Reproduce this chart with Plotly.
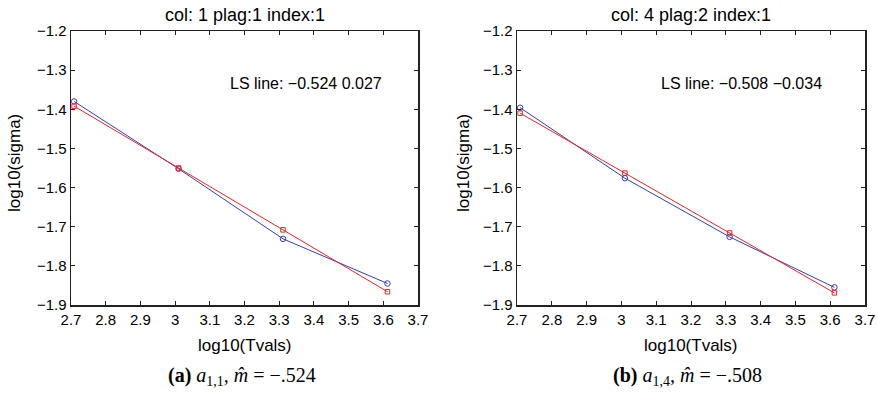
import plotly.graph_objects as go

# Data
log_T = [2.709, 3.010, 3.311, 3.612]
sigma_a_obs = [-1.380, -1.552, -1.731, -1.845]
sigma_a_ls = [-1.392, -1.550, -1.708, -1.866]
sigma_b_obs = [-1.396, -1.576, -1.726, -1.855]
sigma_b_ls = [-1.410, -1.563, -1.716, -1.869]

titles = ["col: 1 plag:1 index:1", "col: 4 plag:2 index:1"]
ls_texts = ["LS line: \u22120.524 0.027", "LS line: \u22120.508 \u22120.034"]
captions = ["<b>(a)</b> <i>a</i><sub>1,1</sub><i>, m\u0302</i> = \u2212.524",
            "<b>(b)</b> <i>a</i><sub>1,4</sub><i>, m\u0302</i> = \u2212.508"]

x_ticks = [2.7, 2.8, 2.9, 3.0, 3.1, 3.2, 3.3, 3.4, 3.5, 3.6, 3.7]
x_ticklabels = ["2.7", "2.8", "2.9", "3", "3.1", "3.2", "3.3", "3.4", "3.5", "3.6", "3.7"]
y_ticks = [-1.9, -1.8, -1.7, -1.6, -1.5, -1.4, -1.3, -1.2]
y_ticklabels = ["\u22121.9", "\u22121.8", "\u22121.7", "\u22121.6", "\u22121.5", "\u22121.4", "\u22121.3", "\u22121.2"]

BLUE = "#3040b8"
RED = "#ee2222"
FONT = "Liberation Sans"

fig = go.Figure()

panels = [
    ("x", "y", sigma_a_obs, sigma_a_ls),
    ("x2", "y2", sigma_b_obs, sigma_b_ls),
]
for xa, ya, obs, ls in panels:
    fig.add_trace(go.Scatter(x=log_T, y=obs, xaxis=xa, yaxis=ya, mode="lines+markers",
                             line=dict(color=BLUE, width=1),
                             marker=dict(symbol="circle-open", size=5.5, color=BLUE, line=dict(width=1)),
                             showlegend=False, hoverinfo="skip"))
    fig.add_trace(go.Scatter(x=log_T, y=ls, xaxis=xa, yaxis=ya, mode="lines+markers",
                             line=dict(color=RED, width=1),
                             marker=dict(symbol="square-open", size=4.5, color=RED, line=dict(width=1)),
                             showlegend=False, hoverinfo="skip"))

xdoms = [[71 / 878, 418 / 878], [517 / 878, 865 / 878]]
ydom = [1 - 305 / 393, 1 - 31 / 393]

axis_common = dict(showgrid=False, zeroline=False, ticks="inside", ticklen=4,
                   tickwidth=1, tickcolor="#222", showline=True, linecolor="#222",
                   linewidth=1.5, mirror="ticks", automargin=False,
                   ticklabeloverflow="allow",
                   tickfont=dict(family=FONT, size=15, color="black"))

layout = dict(
    width=878, height=393,
    template="none",
    margin=dict(l=0, r=0, t=0, b=0),
    paper_bgcolor="white", plot_bgcolor="white",
    xaxis=dict(domain=xdoms[0], range=[2.7, 3.7], tickvals=x_ticks, ticktext=x_ticklabels,
               anchor="y", **axis_common),
    yaxis=dict(domain=ydom, range=[-1.9, -1.2], tickvals=y_ticks, ticktext=y_ticklabels,
               anchor="x", **axis_common),
    xaxis2=dict(domain=xdoms[1], range=[2.7, 3.7], tickvals=x_ticks, ticktext=x_ticklabels,
                anchor="y2", **axis_common),
    yaxis2=dict(domain=ydom, range=[-1.9, -1.2], tickvals=y_ticks, ticktext=y_ticklabels,
                anchor="x2", **axis_common),
)
fig.update_layout(**layout)

annotations = []
for i in range(2):
    xd = xdoms[i]
    cx = (xd[0] + xd[1]) / 2
    xref = "x" if i == 0 else "x2"
    yref = "y" if i == 0 else "y2"
    # title
    annotations.append(dict(text=titles[i], x=cx, y=1 - 15 / 393, xref="paper", yref="paper",
                            showarrow=False, xanchor="center", yanchor="middle",
                            font=dict(family=FONT, size=18, color="black")))
    # x label
    annotations.append(dict(text="log10(Tvals)", x=cx, y=1 - 345 / 393, xref="paper", yref="paper",
                            showarrow=False, xanchor="center", yanchor="middle",
                            font=dict(family=FONT, size=17, color="black")))
    # y label
    ylx = (14 if i == 0 else 463) / 878
    annotations.append(dict(text="log10(sigma)", x=ylx, y=1 - 163 / 393,
                            xref="paper", yref="paper", textangle=-90,
                            showarrow=False, xanchor="center", yanchor="middle",
                            font=dict(family=FONT, size=17, color="black")))
    # LS line text
    annotations.append(dict(text=ls_texts[i], x=3.158 if i == 0 else 3.113, y=-1.333,
                            xref=xref, yref=yref, showarrow=False,
                            xanchor="left", yanchor="middle", xshift=-2,
                            font=dict(family=FONT, size=16, color="black")))
    # caption
    annotations.append(dict(text=captions[i], x=(242 if i == 0 else 687) / 878, y=1 - 376 / 393,
                            xref="paper", yref="paper", showarrow=False,
                            xanchor="center", yanchor="middle",
                            font=dict(family="Liberation Serif", size=20, color="black")))

fig.update_layout(annotations=annotations)
fig.write_html("out.html", config={"displayModeBar": False, "staticPlot": True},
               post_script="document.body.style.margin='0';document.body.style.overflow='hidden';")
